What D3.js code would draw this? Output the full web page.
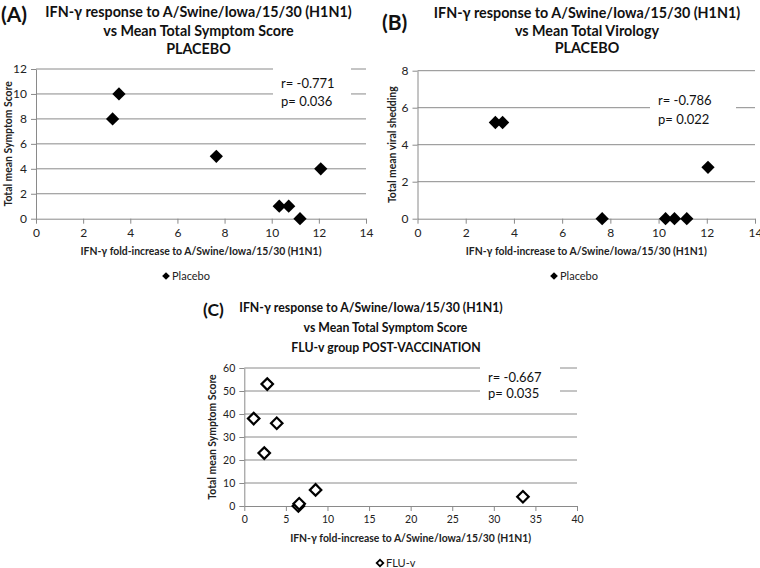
<!DOCTYPE html>
<html><head><meta charset="utf-8">
<script src="https://cdn.jsdelivr.net/npm/d3@7"></script>
<style>body{margin:0;background:#fff}svg{display:block}text{font-family:Lato,"Open Sans",sans-serif}</style>
</head><body><svg id="c" width="760" height="568"></svg>
<script>
// ---- data ----
const placeboIFN_A = [3.25, 3.52, 7.65, 12.08, 10.32, 10.72, 11.2];
const placeboSymptom = [8, 10, 5, 4, 1, 1, 0];
const placeboIFN_B = [3.23, 3.53, 7.66, 10.29, 10.66, 11.17, 12.05];
const placeboShedding = [5.2, 5.2, 0, 0, 0, 0, 2.78];
const fluvIFN = [1.13, 2.76, 3.9, 2.4, 6.5, 6.6, 8.57, 33.5];
const fluvSymptom = [38, 53, 36, 23, 0, 1, 7, 4];
const xTicksAB = [0, 2, 4, 6, 8, 10, 12, 14];
const yTicksA = [0, 2, 4, 6, 8, 10, 12];
const yTicksB = [0, 2, 4, 6, 8];
const xTicksC = [0, 5, 10, 15, 20, 25, 30, 35, 40];
const yTicksC = [0, 10, 20, 30, 40, 50, 60];
const xTitle = "IFN-\u03b3 fold-increase to A/Swine/Iowa/15/30 (H1N1)";
const titlesA = ["IFN-\u03b3 response to A/Swine/Iowa/15/30 (H1N1)", "vs Mean Total Symptom Score", "PLACEBO"];
const titlesB = ["IFN-\u03b3 response to A/Swine/Iowa/15/30 (H1N1)", "vs Mean Total Virology", "PLACEBO"];
const titlesC = ["IFN-\u03b3 response to A/Swine/Iowa/15/30 (H1N1)", "vs Mean Total Symptom Score", "FLU-v group POST-VACCINATION"];
const statsA = ["r= -0.771", "p= 0.036"];
const statsB = ["r= -0.786", "p= 0.022"];
const statsC = ["r= -0.667", "p= 0.035"];

const svg = d3.select("#c");
const grid = "#8a8a8a";

function panel(o) {
  const g = svg.append("g");
  const x = d3.scaleLinear().domain([o.xTicks[0], o.xTicks[o.xTicks.length-1]]).range([o.l, o.r]);
  const y = d3.scaleLinear().domain([o.yTicks[0], o.yTicks[o.yTicks.length-1]]).range([o.b, o.t]);
  // gridlines
  g.selectAll(".gl").data(o.yTicks.slice(1)).join("line")
    .attr("x1", o.l).attr("x2", o.r).attr("y1", d => y(d)).attr("y2", d => y(d))
    .attr("stroke", grid).attr("stroke-width", 1);
  // stats box
  g.append("rect").attr("x", o.box[0]).attr("y", o.box[1]).attr("width", o.box[2]).attr("height", o.box[3]).attr("fill", "#fff");
  o.stats.forEach((s, i) => g.append("text").attr("x", o.box[0] + 8).attr("y", o.statY[i]).attr("dy", "0.35em")
    .attr("font-size", 13).attr("fill", "#111").text(s));
  // axes
  const xa = g.append("g").attr("transform", `translate(0,${o.b})`)
    .call(d3.axisBottom(x).tickValues(o.xTicks).tickSize(5).tickSizeOuter(0).tickPadding(5));
  const ya = g.append("g").attr("transform", `translate(${o.l},0)`)
    .call(d3.axisLeft(y).tickValues(o.yTicks).tickSize(5).tickSizeOuter(0).tickPadding(4));
  [xa, ya].forEach(a => {
    a.select(".domain").attr("stroke", grid);
    a.selectAll(".tick line").attr("stroke", grid);
    a.selectAll("text").attr("font-size", o.tickFs).attr("fill", "#222").attr("font-family", "Lato, sans-serif");
  });
  // points (diamonds = squares rotated 45deg)
  const sym = d3.symbol().type(d3.symbolSquare).size(o.filled ? 88 : 66);
  g.selectAll(".pt").data(o.xs.map((v, i) => [v, o.ys[i]])).join("path")
    .attr("d", sym).attr("transform", d => `translate(${x(d[0])},${y(d[1])}) rotate(45)`)
    .attr("fill", o.filled ? "#000" : "#fff").attr("stroke", "#000").attr("stroke-width", o.filled ? 0 : 2.2);
  // axis titles
  g.append("text").attr("x", (o.l + o.r) / 2 + o.xtOff).attr("y", o.xtY).attr("dy", "0.35em").attr("text-anchor", "middle")
    .attr("font-size", 10.4).attr("font-weight", "bold").attr("fill", "#222").text(xTitle);
  g.append("text").attr("transform", `translate(${o.ytX},${(o.t + o.b) / 2}) rotate(-90)`).attr("dy", "0.35em")
    .attr("text-anchor", "middle").attr("font-size", 10.4).attr("font-weight", "bold").attr("fill", "#222").text(o.yTitle);
  // legend
  g.append("path").attr("d", d3.symbol().type(d3.symbolSquare).size(o.filled ? 30 : 22)())
    .attr("transform", `translate(${o.leg[0]},${o.leg[1]}) rotate(45)`)
    .attr("fill", o.filled ? "#000" : "#fff").attr("stroke", "#000").attr("stroke-width", o.filled ? 0 : 1.8);
  g.append("text").attr("x", o.leg[0] + 6).attr("y", o.leg[1]).attr("dy", "0.35em").attr("font-size", 11).attr("fill", "#222").text(o.legText);
  // titles
  o.titles.forEach((s, i) => g.append("text").attr("x", o.tx[i]).attr("y", o.ty[i]).attr("dy", "0.35em").attr("text-anchor", "middle")
    .attr("font-size", o.titleFs).attr("font-weight", "bold").attr("fill", "#111").text(s));
  g.append("text").attr("x", o.lab[0]).attr("y", o.lab[1]).attr("dy", "0.35em").attr("font-size", o.labFs)
    .attr("font-weight", "bold").attr("fill", "#111").text(o.label);
}

panel({l: 36, r: 366, t: 69, b: 218.7, xTicks: xTicksAB, yTicks: yTicksA, xs: placeboIFN_A, ys: placeboSymptom, filled: true,
  box: [273, 64, 78, 43], stats: statsA, statY: [83.5, 101], xtY: 251.7, xtOff: 0, ytX: 8, yTitle: "Total mean Symptom Score",
  leg: [166, 276], legText: "Placebo", titles: titlesA, tx: [198.5, 198.5, 198.5], ty: [12, 30.5, 49], lab: [1, 15], label: "(A)",
  titleFs: 14.3, labFs: 21, tickFs: 12});
panel({l: 417.5, r: 755, t: 70.7, b: 218.7, xTicks: xTicksAB, yTicks: yTicksB, xs: placeboIFN_B, ys: placeboShedding, filled: true,
  box: [650, 89, 86, 40], stats: statsB, statY: [100, 119], xtY: 251.7, xtOff: 0, ytX: 392, yTitle: "Total mean viral shedding",
  leg: [554, 276], legText: "Placebo", titles: titlesB, tx: [587, 587, 587], ty: [12.7, 30.7, 48], lab: [382, 23], label: "(B)",
  titleFs: 14.3, labFs: 21, tickFs: 12});
panel({l: 244.3, r: 577, t: 368, b: 506, xTicks: xTicksC, yTicks: yTicksC, xs: fluvIFN, ys: fluvSymptom, filled: false,
  box: [480, 363, 80, 40], stats: statsC, statY: [377.5, 393.5], xtY: 538, xtOff: 0, ytX: 212, yTitle: "Total mean Symptom Score",
  leg: [380, 563], legText: "FLU-v", titles: titlesC, tx: [371, 385.5, 386], ty: [308, 328, 348], lab: [203, 310], label: "(C)",
  titleFs: 12.3, labFs: 17.5, tickFs: 10.5});
</script></body></html>
